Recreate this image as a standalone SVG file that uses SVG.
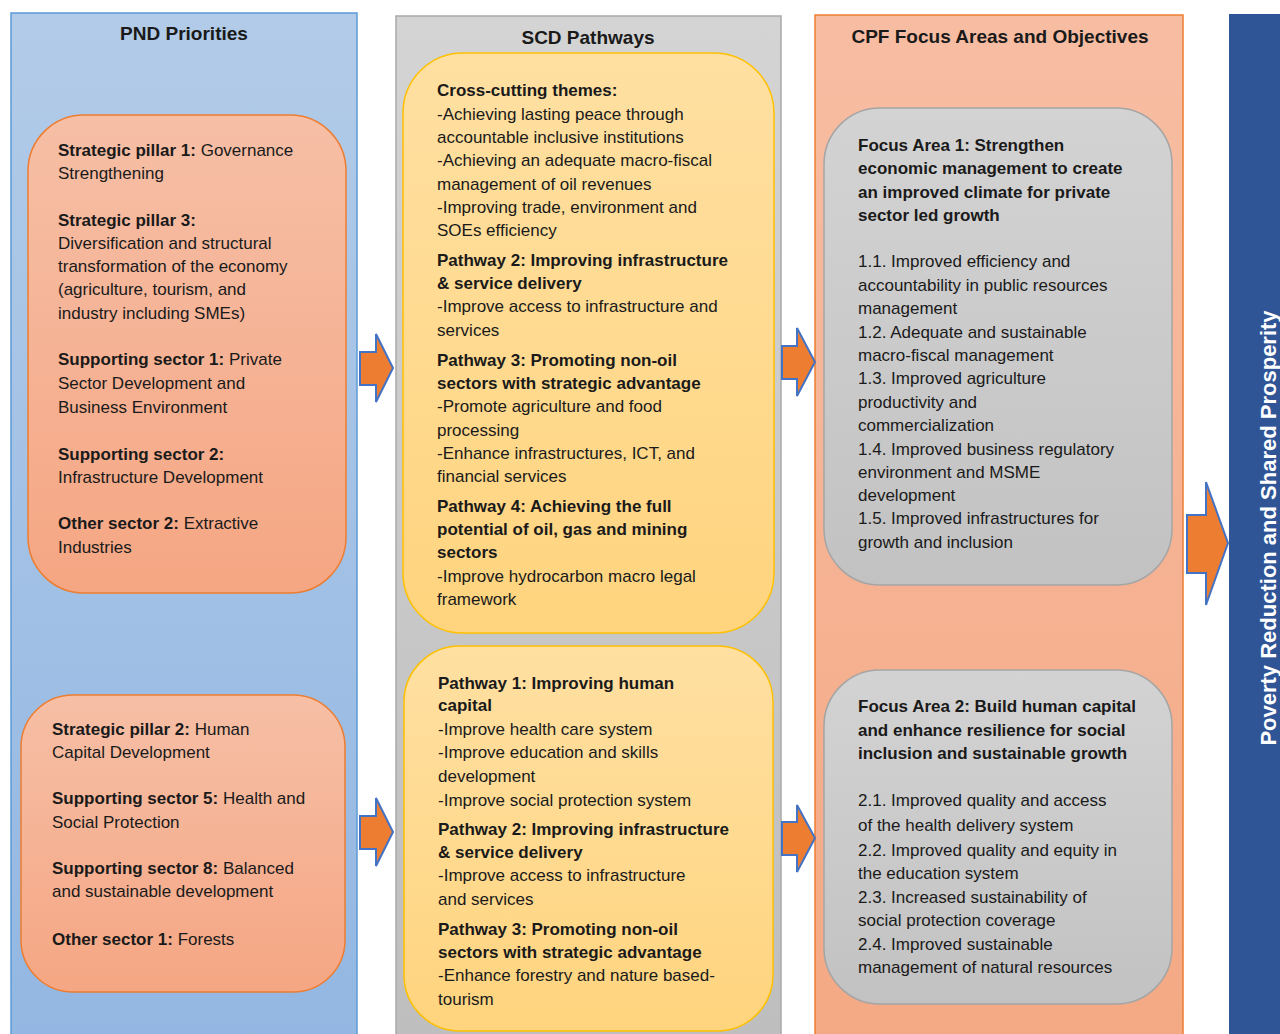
<svg xmlns="http://www.w3.org/2000/svg" width="1280" height="1034" viewBox="0 0 1280 1034">
<defs>
<linearGradient id="gBlue" x1="0" y1="0" x2="0" y2="1"><stop offset="0" stop-color="#B2CBE8"/><stop offset="1" stop-color="#93B7E2"/></linearGradient>
<linearGradient id="gGray" x1="0" y1="0" x2="0" y2="1"><stop offset="0" stop-color="#D4D4D4"/><stop offset="1" stop-color="#BEBEBE"/></linearGradient>
<linearGradient id="gOrCol" x1="0" y1="0" x2="0" y2="1"><stop offset="0" stop-color="#F7BDA3"/><stop offset="1" stop-color="#F4A984"/></linearGradient>
<linearGradient id="gOrBox" x1="0" y1="0" x2="0" y2="1"><stop offset="0" stop-color="#F6BFA6"/><stop offset="1" stop-color="#F5A683"/></linearGradient>
<linearGradient id="gYel" x1="0" y1="0" x2="0" y2="1"><stop offset="0" stop-color="#FFE0A2"/><stop offset="1" stop-color="#FFD47E"/></linearGradient>
<linearGradient id="gGrBox" x1="0" y1="0" x2="0" y2="1"><stop offset="0" stop-color="#D3D3D3"/><stop offset="1" stop-color="#C2C2C2"/></linearGradient>
</defs>
<style>
text{font-family:"Liberation Sans",Arial,sans-serif;font-size:17px;fill:#1a1a1a}
.h{font-size:19px;font-weight:bold;text-anchor:middle}
.b{font-weight:bold}
.arrow{fill:#ED7D31;stroke:#4472C4;stroke-width:2}
</style>
<rect width="1280" height="1034" fill="#FFFFFF"/>

<g id="col-pnd">
<rect x="11" y="13" width="346" height="1030" fill="url(#gBlue)" stroke="#5B9BD5" stroke-width="1.5"/>
<text class="h" x="184" y="40">PND Priorities</text>
</g>
<g id="col-scd">
<rect x="396" y="16" width="385" height="1030" fill="url(#gGray)" stroke="#A9A9A9" stroke-width="1.5"/>
<text class="h" x="588" y="44">SCD Pathways</text>
</g>
<g id="col-cpf">
<rect x="815" y="15" width="368" height="1030" fill="url(#gOrCol)" stroke="#ED7D31" stroke-width="1.5"/>
<text class="h" x="1000" y="43">CPF Focus Areas and Objectives</text>
</g>
<g id="bar-goal">
<rect x="1229" y="14" width="60" height="1030" fill="#2F5597"/>
<text transform="translate(1276,528) rotate(-90)" text-anchor="middle" style="font-size:22px;font-weight:bold;fill:#FFFFFF">Poverty Reduction and Shared Prosperity</text>
</g>

<g id="pnd-1">
<rect x="28" y="115" width="318" height="478" rx="56" fill="url(#gOrBox)" stroke="#ED7D31" stroke-width="1.5"/>
<text x="58" y="156"><tspan class="b">Strategic pillar 1:</tspan> Governance</text>
<text x="58" y="179">Strengthening</text>
<text x="58" y="226" class="b">Strategic pillar 3:</text>
<text x="58" y="249">Diversification and structural</text>
<text x="58" y="272">transformation of the economy</text>
<text x="58" y="295">(agriculture, tourism, and</text>
<text x="58" y="319">industry including SMEs)</text>
<text x="58" y="365"><tspan class="b">Supporting sector 1:</tspan> Private</text>
<text x="58" y="389">Sector Development and</text>
<text x="58" y="413">Business Environment</text>
<text x="58" y="460" class="b">Supporting sector 2:</text>
<text x="58" y="483">Infrastructure Development</text>
<text x="58" y="529"><tspan class="b">Other sector 2:</tspan> Extractive</text>
<text x="58" y="553">Industries</text>
</g>

<g id="pnd-2">
<rect x="21" y="695" width="324" height="297" rx="52" fill="url(#gOrBox)" stroke="#ED7D31" stroke-width="1.5"/>
<text x="52" y="735"><tspan class="b">Strategic pillar 2:</tspan> Human</text>
<text x="52" y="758">Capital Development</text>
<text x="52" y="804"><tspan class="b">Supporting sector 5:</tspan> Health and</text>
<text x="52" y="828">Social Protection</text>
<text x="52" y="874"><tspan class="b">Supporting sector 8:</tspan> Balanced</text>
<text x="52" y="897">and sustainable development</text>
<text x="52" y="945"><tspan class="b">Other sector 1:</tspan> Forests</text>
</g>

<g id="scd-1">
<rect x="403" y="53" width="371" height="580" rx="60" fill="url(#gYel)" stroke="#FFC000" stroke-width="1.5"/>
<text x="437" y="96" class="b">Cross-cutting themes:</text>
<text x="437" y="120">-Achieving lasting peace through</text>
<text x="437" y="143">accountable inclusive institutions</text>
<text x="437" y="166">-Achieving an adequate macro-fiscal</text>
<text x="437" y="190">management of oil revenues</text>
<text x="437" y="213">-Improving trade, environment and</text>
<text x="437" y="236">SOEs efficiency</text>
<text x="437" y="266" class="b">Pathway 2: Improving infrastructure</text>
<text x="437" y="289" class="b">&amp; service delivery</text>
<text x="437" y="312">-Improve access to infrastructure and</text>
<text x="437" y="336">services</text>
<text x="437" y="366" class="b">Pathway 3: Promoting non-oil</text>
<text x="437" y="389" class="b">sectors with strategic advantage</text>
<text x="437" y="412">-Promote agriculture and food</text>
<text x="437" y="436">processing</text>
<text x="437" y="459">-Enhance infrastructures, ICT, and</text>
<text x="437" y="482">financial services</text>
<text x="437" y="512" class="b">Pathway 4: Achieving the full</text>
<text x="437" y="535" class="b">potential of oil, gas and mining</text>
<text x="437" y="558" class="b">sectors</text>
<text x="437" y="582">-Improve hydrocarbon macro legal</text>
<text x="437" y="605">framework</text>
</g>

<g id="scd-2">
<rect x="404" y="646" width="369" height="385" rx="56" fill="url(#gYel)" stroke="#FFC000" stroke-width="1.5"/>
<text x="438" y="689" class="b">Pathway 1: Improving human</text>
<text x="438" y="711" class="b">capital</text>
<text x="438" y="735">-Improve health care system</text>
<text x="438" y="758">-Improve education and skills</text>
<text x="438" y="782">development</text>
<text x="438" y="806">-Improve social protection system</text>
<text x="438" y="835" class="b">Pathway 2: Improving infrastructure</text>
<text x="438" y="858" class="b">&amp; service delivery</text>
<text x="438" y="881">-Improve access to infrastructure</text>
<text x="438" y="905">and services</text>
<text x="438" y="935" class="b">Pathway 3: Promoting non-oil</text>
<text x="438" y="958" class="b">sectors with strategic advantage</text>
<text x="438" y="981">-Enhance forestry and nature based-</text>
<text x="438" y="1005">tourism</text>
</g>

<g id="cpf-1">
<rect x="824" y="108" width="348" height="477" rx="56" fill="url(#gGrBox)" stroke="#A5A5A5" stroke-width="1.5"/>
<text x="858" y="151" class="b">Focus Area 1: Strengthen</text>
<text x="858" y="174" class="b">economic management to create</text>
<text x="858" y="198" class="b">an improved climate for private</text>
<text x="858" y="221" class="b">sector led growth</text>
<text x="858" y="267">1.1. Improved efficiency and</text>
<text x="858" y="291">accountability in public resources</text>
<text x="858" y="314">management</text>
<text x="858" y="338">1.2. Adequate and sustainable</text>
<text x="858" y="361">macro-fiscal management</text>
<text x="858" y="384">1.3. Improved agriculture</text>
<text x="858" y="408">productivity and</text>
<text x="858" y="431">commercialization</text>
<text x="858" y="455">1.4. Improved business regulatory</text>
<text x="858" y="478">environment and MSME</text>
<text x="858" y="501">development</text>
<text x="858" y="524">1.5. Improved infrastructures for</text>
<text x="858" y="548">growth and inclusion</text>
</g>

<g id="cpf-2">
<rect x="824" y="670" width="348" height="334" rx="56" fill="url(#gGrBox)" stroke="#A5A5A5" stroke-width="1.5"/>
<text x="858" y="712" class="b">Focus Area 2: Build human capital</text>
<text x="858" y="736" class="b">and enhance resilience for social</text>
<text x="858" y="759" class="b">inclusion and sustainable growth</text>
<text x="858" y="806">2.1. Improved quality and access</text>
<text x="858" y="831">of the health delivery system</text>
<text x="858" y="856">2.2. Improved quality and equity in</text>
<text x="858" y="879">the education system</text>
<text x="858" y="903">2.3. Increased sustainability of</text>
<text x="858" y="926">social protection coverage</text>
<text x="858" y="950">2.4. Improved sustainable</text>
<text x="858" y="973">management of natural resources</text>
</g>

<g id="connectors">
<polygon class="arrow" points="360,352 376,352 376,334 393,368 376,402 376,385 360,385"/>
<polygon class="arrow" points="360,816 376,816 376,798 393,832 376,866 376,849 360,849"/>
<polygon class="arrow" points="782,346 797,346 797,328 815,362 797,396 797,379 782,379"/>
<polygon class="arrow" points="782,822 797,822 797,805 815,838 797,872 797,855 782,855"/>
<polygon class="arrow" points="1187,515 1206,515 1206,482 1228,543 1206,605 1206,573 1187,573"/>
</g>
</svg>
